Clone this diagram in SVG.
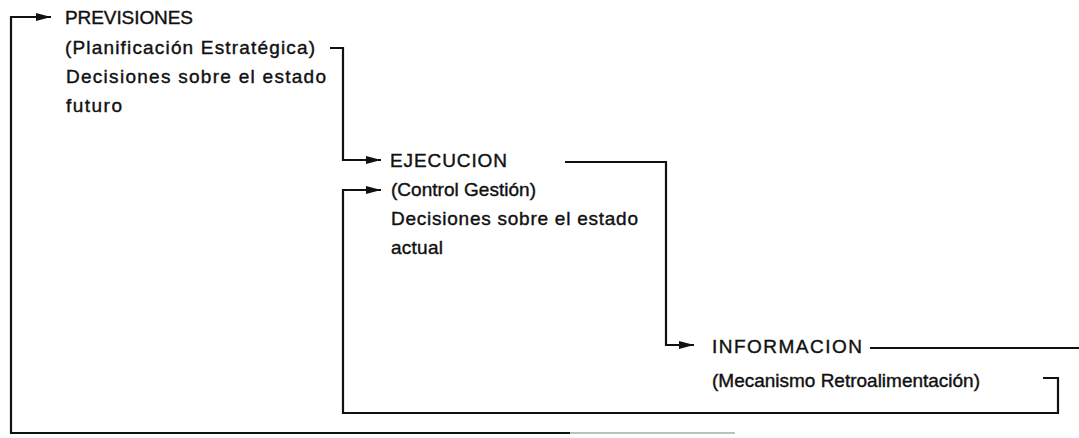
<svg xmlns="http://www.w3.org/2000/svg" width="1079" height="438" viewBox="0 0 1079 438">
<style>
.t{font-family:"Liberation Sans",Arial,sans-serif;font-size:19px;fill:#111;stroke:#111;stroke-width:0.4}
.c{fill:none;stroke:#111;stroke-width:2.2;stroke-linejoin:miter}
.f{fill:none;stroke:#aaa;stroke-width:1.6}
</style>
<defs>
<marker id="ah" markerUnits="userSpaceOnUse" markerWidth="16" markerHeight="10" refX="15" refY="5" orient="auto">
<path d="M0,1 L15,5 L0,9 Z" fill="#111"/>
</marker>
</defs>
<rect width="1079" height="438" fill="#fff"/>
<g id="connectors">
<path class="c" d="M570,433 H11 V17 H51" marker-end="url(#ah)"/>
<path class="f" d="M570,433 H735"/>
<path class="c" d="M330,48 H343 V160 H381" marker-end="url(#ah)"/>
<path class="c" d="M565,162 H666 V345 H694" marker-end="url(#ah)"/>
<path class="c" d="M870,348 H1079"/>
<path class="c" d="M1043,378 H1058 V413 H343 V190 H381" marker-end="url(#ah)"/>
</g>
<g id="previsiones">
<text class="t" x="65" y="24" textLength="128">PREVISIONES</text>
<text class="t" x="65" y="54" textLength="250">(Planificación Estratégica)</text>
<text class="t" x="66" y="83" textLength="260">Decisiones sobre el estado</text>
<text class="t" x="66" y="112" textLength="56">futuro</text>
</g>
<g id="ejecucion">
<text class="t" x="390" y="167" textLength="117">EJECUCION</text>
<text class="t" x="391" y="196" textLength="145">(Control Gestión)</text>
<text class="t" x="391" y="225" textLength="247">Decisiones sobre el estado</text>
<text class="t" x="391" y="254" textLength="52">actual</text>
</g>
<g id="informacion">
<text class="t" x="712" y="353" textLength="150">INFORMACION</text>
<text class="t" x="712" y="387" textLength="268">(Mecanismo Retroalimentación)</text>
</g>
</svg>
